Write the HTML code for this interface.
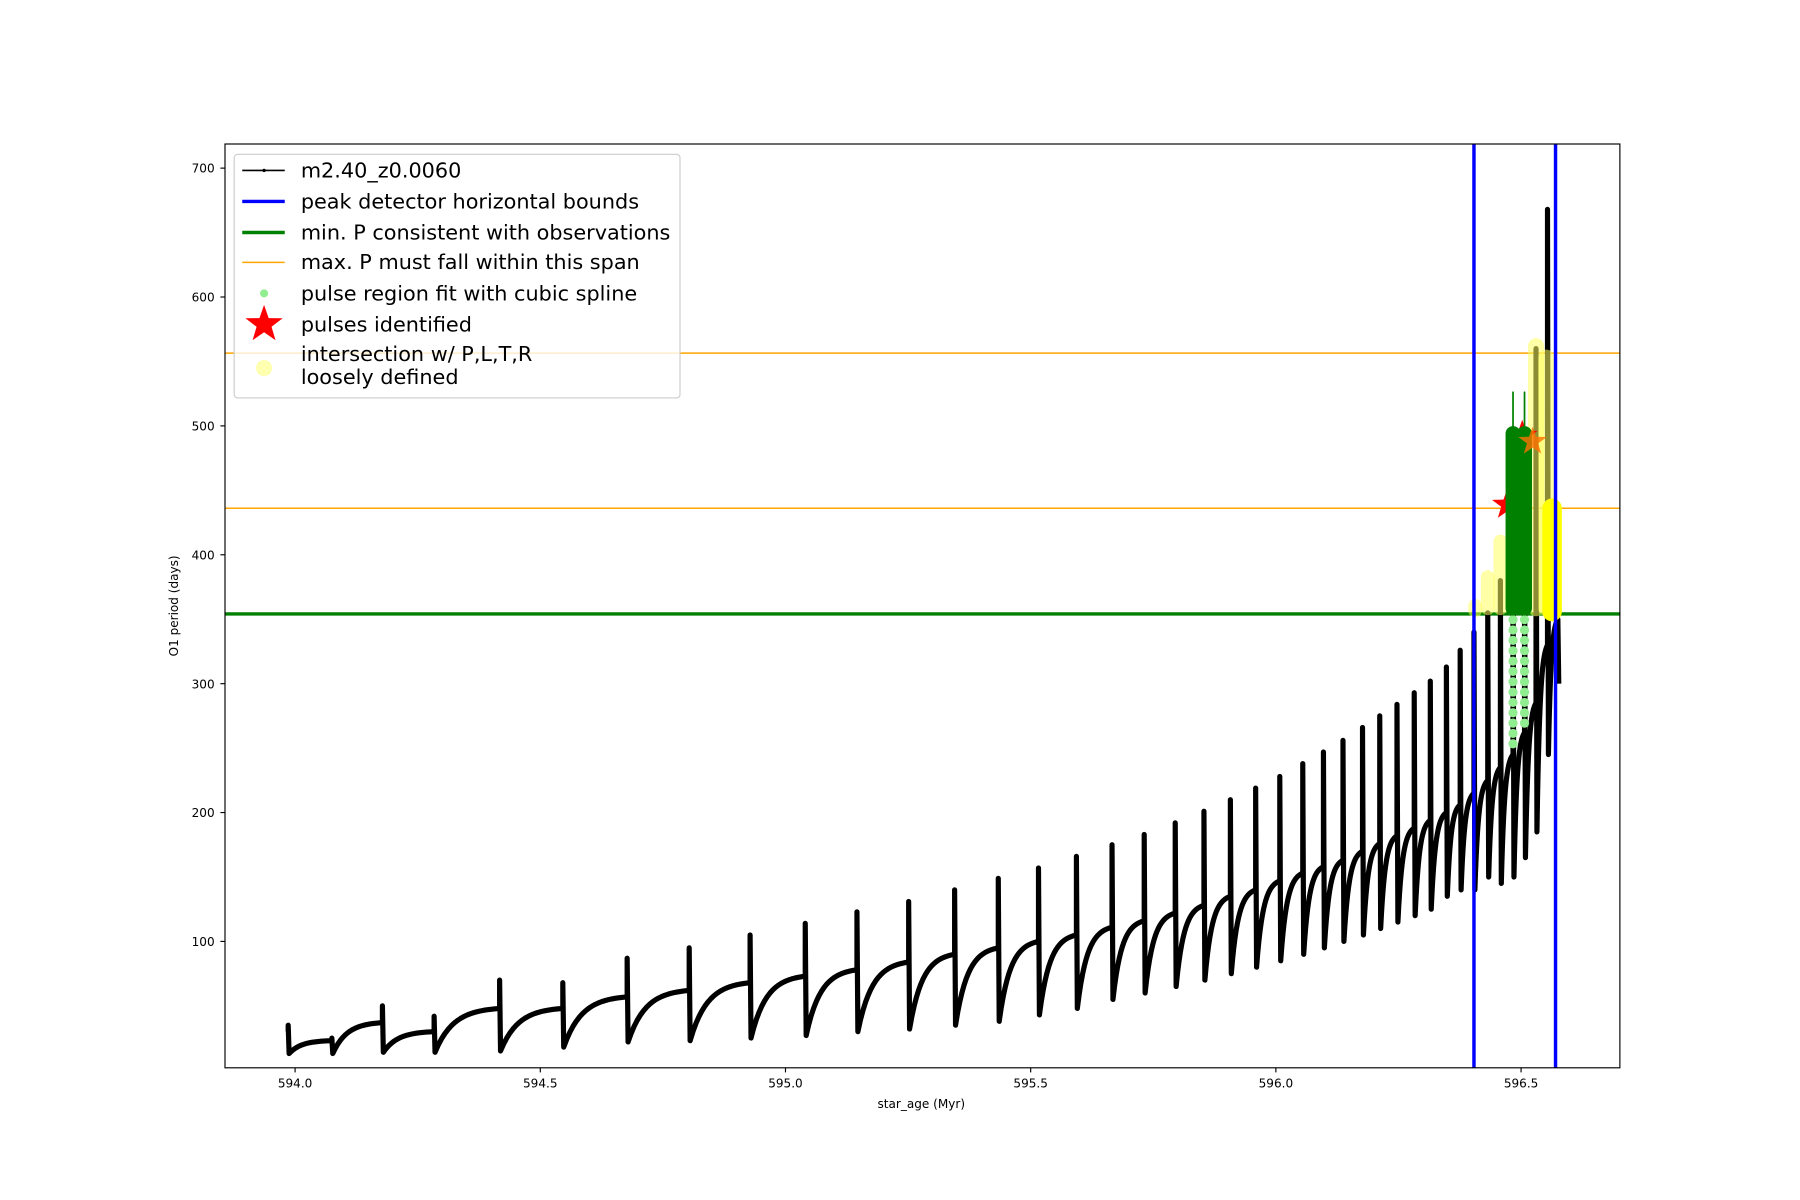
<!DOCTYPE html>
<html><head><meta charset="utf-8"><style>html,body{margin:0;padding:0;background:#fff}svg{display:block}text{font-family:"DejaVu Sans","Liberation Sans",sans-serif}</style></head>
<body>
<svg id="s" width="1800" height="1200" viewBox="0 0 1800 1200" xmlns="http://www.w3.org/2000/svg">
<rect width="1800" height="1200" fill="#fff"/>
<g transform="translate(225,144) scale(1.149) translate(-197,-126)">
<defs><clipPath id="c"><rect x="197" y="126" width="1214" height="804"/></clipPath></defs>
<g clip-path="url(#c)">
<line x1="197" x2="1411" y1="535" y2="535" stroke="green" stroke-width="3"/>
<line x1="197" x2="1411" y1="308" y2="308" stroke="orange" stroke-width="1.3"/>
<line x1="197" x2="1411" y1="443" y2="443" stroke="orange" stroke-width="1.3"/>
<path id="blk" fill="none" stroke="#000" stroke-width="4.5" stroke-linejoin="round"/>
<g id="right"></g>
<line x1="1284" x2="1284" y1="126" y2="930" stroke="blue" stroke-width="3"/>
<line x1="1355" x2="1355" y1="126" y2="930" stroke="blue" stroke-width="3"/>
</g>
<rect x="197" y="126" width="1214" height="804" fill="none" stroke="#000" stroke-width="1"/>
<g id="ticks" font-size="10.5" fill="#000"></g>
<text x="803" y="965" font-size="10.5" text-anchor="middle">star_age (Myr)</text>
<text transform="translate(156,528) rotate(-90)" font-size="10.5" text-anchor="middle">O1 period (days)</text>
<rect x="205" y="135" width="388" height="212" rx="3" fill="#fff" fill-opacity="0.8" stroke="#ccc" stroke-width="1"/>
<g font-size="18.1" fill="#000">
<line x1="212" x2="249" y1="149" y2="149" stroke="#000" stroke-width="1.5"/><circle cx="231" cy="149" r="1.5"/>
<text x="263" y="155">m2.40_z0.0060</text>
<line x1="212" x2="249" y1="176" y2="176" stroke="blue" stroke-width="3"/>
<text x="263" y="182">peak detector horizontal bounds</text>
<line x1="212" x2="249" y1="203" y2="203" stroke="green" stroke-width="3"/>
<text x="263" y="209">min. P consistent with observations</text>
<line x1="212" x2="249" y1="229" y2="229" stroke="orange" stroke-width="1.3"/>
<text x="263" y="235">max. P must fall within this span</text>
<circle cx="231" cy="256" r="3.5" fill="lightgreen"/>
<text x="263" y="262">pulse region fit with cubic spline</text>
<polygon id="lstar" fill="red"/>
<text x="263" y="289">pulses identified</text>
<circle cx="231" cy="321" r="7" fill="#ffffb0"/>
<text x="263" y="315">intersection w/ P,L,T,R</text>
<text x="263" y="335">loosely defined</text>
</g>
</g>
</svg>
<script>
var Y=function(v){return 147+(700-v)*1.1217;};
var P=[[252,30,35,13],[290,23,25,13],[334,37,50,14],[379,30,42,14],[436,48,70,15],[491,48,68,18],[547,57,87,22],[601,62,95,23],[654,68,105,25],[702,73,114,27],[747,78,123,30],[792,84,131,32],[832,90,140,35],[870,95,149,38],[905,100,157,43],[938,105,166,48],[969,111,175,55],[997,116,183,60],[1024,122,192,65],[1049,128,201,70],[1072,135,210,75],[1094,140,219,80],[1115,147,228,85],[1135,153,238,90],[1153,158,247,95],[1170,163,256,100],[1187,170,266,105],[1202,176,275,110],[1217,182,284,115],[1232,188,293,120],[1246,194,302,125],[1260,200,313,135],[1272,206,326,140],[1284,215,340,140],[1296,225,355,150],[1307,235,380,145],[1318,245,400,150],[1328,262,420,165],[1338,285,560,185],[1348,330,668,245],[1357,350,350,300]];
var d="";
for(var i=0;i<P.length;i++){var p=P[i];
 d+=(i?"L":"M")+p[0]+","+Y(p[1])+"L"+p[0]+","+Y(p[2])+"L"+(p[0]+0.8)+","+Y(p[3]);
 if(i<P.length-1){var n=P[i+1],dx=n[0]-p[0];
  for(var k=1;k<=20;k++){var f=k/20;var v=p[3]+(n[1]-p[3])*(1-Math.exp(-3.5*f))/(1-Math.exp(-3.5));d+="L"+(p[0]+0.8+(dx-0.8)*f).toFixed(2)+","+Y(v).toFixed(2);}}}
document.getElementById("blk").setAttribute("d",d);
var r="";
function stripe(x,y1,y2,w,c,o){r+='<line x1="'+x+'" x2="'+x+'" y1="'+y1+'" y2="'+y2+'" stroke="'+c+'" stroke-width="'+w+'" stroke-linecap="round" opacity="'+(o||1)+'"/>';}
function star(cx,cy,R){var s="";for(var k=0;k<10;k++){var a=-Math.PI/2+k*Math.PI/5,rr=k%2?R*0.4:R;s+=(cx+rr*Math.cos(a)).toFixed(1)+","+(cy+rr*Math.sin(a)).toFixed(1)+" ";}return s;}
stripe(1285,528,532,12,"#ffff60",0.55);stripe(1296,503,530,12,"#ffff60",0.55);stripe(1307,472,530,12,"#ffff60",0.55);
stripe(1338,302,530,14,"#ffff60",0.55);stripe(1347,312,530,14,"#ffff60",0.55);
for(var y=540;y<=655;y+=9){r+='<circle cx="1318" cy="'+y+'" r="4" fill="lightgreen"/>';}
for(var y=540;y<=632;y+=9){r+='<circle cx="1328" cy="'+y+'" r="4" fill="lightgreen"/>';}
r+='<polygon points="'+star(1313,440,14)+'" fill="red"/>';
r+='<polygon points="'+star(1326,380,14)+'" fill="red"/>';
stripe(1318,342,380,1.5,"green");stripe(1328,342,380,1.5,"green");
stripe(1318,378,530,13,"green");stripe(1328,378,530,13,"green");
r+='<polygon points="'+star(1335,385,13)+'" fill="#ff7000" opacity="0.8"/>';
stripe(1352,443,533,17,"#ffff00");
document.getElementById("right").innerHTML=r;
document.getElementById("lstar").setAttribute("points",star(231,283,17));
var t="";
for(var v=100;v<=700;v+=100){var y=Y(v);t+='<line x1="193" x2="197" y1="'+y+'" y2="'+y+'" stroke="#000"/><text x="188" y="'+(y+4)+'" text-anchor="end">'+v+'</text>';}
var xl=["594.0","594.5","595.0","595.5","596.0","596.5"];
for(var i=0;i<6;i++){var x=258+i*213.4;t+='<line x1="'+x+'" x2="'+x+'" y1="930" y2="934" stroke="#000"/><text x="'+x+'" y="947" text-anchor="middle">'+xl[i]+'</text>';}
document.getElementById("ticks").innerHTML=t;
</script>
</body></html>
